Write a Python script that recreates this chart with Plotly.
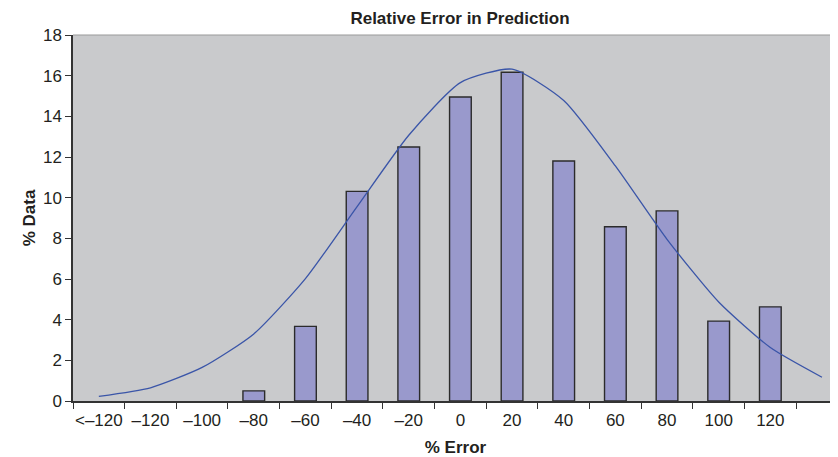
import plotly.graph_objects as go

categories = ["<–120", "–120", "–100", "–80", "–60", "–40", "–20", "0", "20",
              "40", "60", "80", "100", "120", " "]
pct_data = [0, 0, 0, 0.5, 3.67, 10.31, 12.49, 14.95, 16.17, 11.8, 8.57, 9.35,
            3.93, 4.63, None]
fit_curve = [0.23, 0.65, 1.65, 3.3, 6.02, 9.56, 13.07, 15.66, 16.32, 14.78,
             11.56, 7.95, 4.87, 2.63, 1.17]

font_family = "Liberation Sans, Arial, sans-serif"
txt = "#231F20"

outline_w = [1.4 if (v is not None and v > 0) else 0 for v in pct_data]

W, H = 830, 449  # page body adds an 8px offset

fig = go.Figure()
fig.add_trace(go.Bar(
    x=categories, y=pct_data,
    marker=dict(color="#9999CC", line=dict(color="#2B2B2B", width=outline_w)),
    showlegend=False,
))
fig.add_trace(go.Scatter(
    x=categories, y=fit_curve, mode="lines",
    line=dict(color="#3A55A8", width=1.3, shape="spline", smoothing=0.6),
    showlegend=False,
))

fig.update_layout(
    width=W, height=H,
    margin=dict(l=65, r=0, t=27, b=56, autoexpand=False),
    paper_bgcolor="white",
    plot_bgcolor="#C9CACC",
    bargap=0.58,
    font=dict(family=font_family, size=17, color=txt),
    title=dict(text="<b>Relative Error in Prediction</b>",
               font=dict(size=17, color=txt),
               x=452 / W, xref="container", xanchor="center",
               y=1 - 10 / H, yref="container", yanchor="middle"),
    xaxis=dict(
        type="category", categoryorder="array", categoryarray=categories,
        range=[-0.5, 14.31], tickangle=0, automargin=False,
        tickson="boundaries", ticks="outside", ticklen=6, tickwidth=1.2,
        tickcolor="#333333", ticklabelstandoff=3,
        showline=True, linecolor="#333333", linewidth=1.5,
        showgrid=False, zeroline=False,
        tickfont=dict(size=17, color=txt),
        title=dict(text="<b>% Error</b>", font=dict(size=17, color=txt), standoff=16),
    ),
    yaxis=dict(
        range=[0, 18], dtick=2, tick0=0, automargin=False,
        ticks="outside", ticklen=6, tickwidth=1.2, tickcolor="#333333",
        showline=True, linecolor="#333333", linewidth=1.5,
        showgrid=False, zeroline=False,
        tickfont=dict(size=17, color=txt),
        title=dict(text="<b>% Data</b>", font=dict(size=17, color=txt), standoff=3),
    ),
    shapes=[dict(type="line", xref="paper", yref="paper", x0=0, x1=1, y0=1, y1=1,
                 line=dict(color="#9A9A9A", width=1.2))],
)

fig.write_html("out.html")
